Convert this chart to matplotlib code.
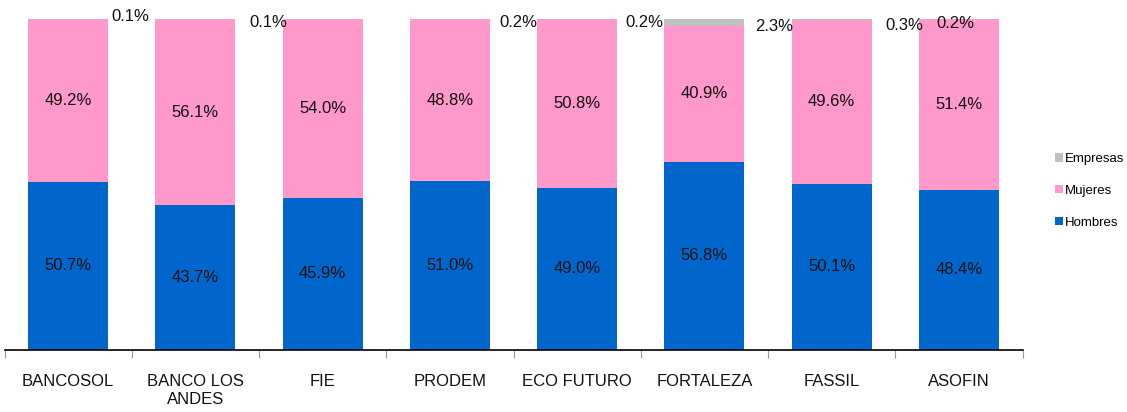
import numpy as np
import matplotlib.pyplot as plt

plt.rcParams['font.family'] = ['Liberation Sans', 'DejaVu Sans']

categories = ["BANCOSOL", "BANCO LOS\nANDES", "FIE", "PRODEM", "ECO FUTURO",
              "FORTALEZA", "FASSIL", "ASOFIN"]
hombres = [50.7, 43.7, 45.9, 51.0, 49.0, 56.8, 50.1, 48.4]
mujeres = [49.2, 56.1, 54.0, 48.8, 50.8, 40.9, 49.6, 51.4]
empresas = [0.1, 0.1, 0.1, 0.2, 0.2, 2.3, 0.3, 0.2]
empresas_shown = [True, True, False, True, True, True, True, True]

# where the small "Empresas" labels sit (x offset from bar centre, y in %)
emp_dx = [0.49, 0.57, 0.0, 0.54, 0.53, 0.55, 0.57, -0.03]
emp_y = [100.6, 98.8, 98.8, 98.8, 98.8, 97.6, 98.0, 98.6]

c_hom = "#0066CC"
c_muj = "#FF99CC"
c_emp = "#C0C0C0"

fig = plt.figure(figsize=(11.27, 4.12), dpi=100)
ax = fig.add_axes([0.0040, 0.1505, 0.9033, 0.8045])

x = np.arange(len(categories))
w = 0.63
hom = np.array(hombres)
muj = np.array(mujeres)
emp = np.array(empresas)

ax.bar(x, hom, w, color=c_hom, label="Hombres")
ax.bar(x, muj, w, bottom=hom, color=c_muj, label="Mujeres")
ax.bar(x, emp, w, bottom=hom + muj, color=c_emp, label="Empresas")

for i in range(len(x)):
    ax.text(x[i], hom[i] / 2, f"{hombres[i]:.1f}%", ha="center", va="center",
            fontsize=12, color="#111111")
    ax.text(x[i], hom[i] + muj[i] / 2, f"{mujeres[i]:.1f}%", ha="center",
            va="center", fontsize=12, color="#111111")
    if empresas_shown[i]:
        ax.text(x[i] + emp_dx[i], emp_y[i], f"{empresas[i]:.1f}%", ha="center",
                va="center", fontsize=12, color="#111111")

ax.set_xlim(-0.5, len(x) - 0.5)
ax.set_ylim(0, 100)
for s in ["top", "right", "left"]:
    ax.spines[s].set_visible(False)
ax.spines["bottom"].set_color("black")
ax.spines["bottom"].set_linewidth(1.2)
ax.set_yticks([])

ax.set_xticks(x)
ax.set_xticklabels(categories, fontsize=12, color="#111111", linespacing=1.3)
ax.tick_params(axis="x", which="major", length=0, pad=17)
ax.set_xticks(np.arange(len(x) + 1) - 0.5, minor=True)
ax.tick_params(axis="x", which="minor", length=6, color="#999999", width=0.8)

handles, labels = ax.get_legend_handles_labels()
leg = ax.legend(handles[::-1], labels[::-1], loc="center left",
                bbox_to_anchor=(1.02, 0.48), frameon=False, fontsize=9.5,
                handlelength=0.6, handleheight=0.6, handletextpad=0.15,
                labelspacing=1.5)

fig.savefig("out.png", dpi=100)
